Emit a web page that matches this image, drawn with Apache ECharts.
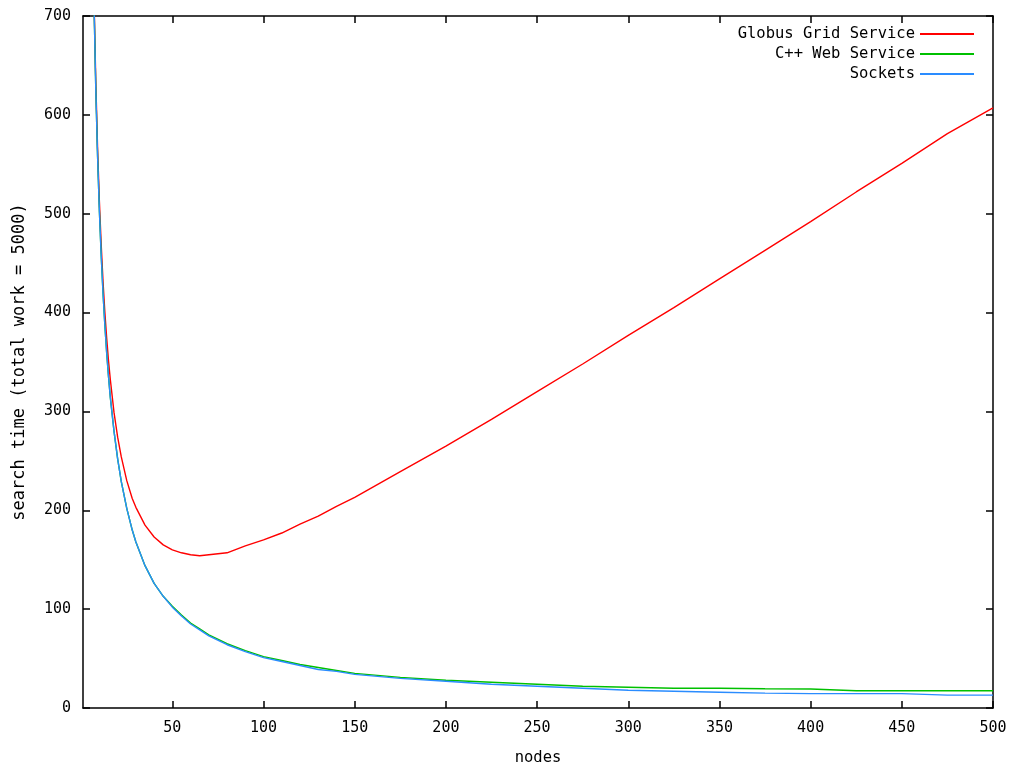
<!DOCTYPE html>
<html>
<head>
<meta charset="utf-8">
<script src="https://cdn.jsdelivr.net/npm/echarts@6/dist/echarts.min.js"></script>
<style>
html,body{margin:0;padding:0;background:#fff;}
#chart{width:1011px;height:765px;}
</style>
</head>
<body>
<div id="chart"></div>
<script>
const nodes = [7,8,9,10,11,12,13,14,15,16,18,20,22,25,28,30,35,40,45,50,55,60,65,70,80,90,100,110,120,130,140,150,175,200,225,250,275,300,325,350,375,400,425,450,475,500];
const globus = [722,635,566,512,468,431,400,374,351,332,299,274,254,230,212,203,185,173,165,160,157,155,154,155,157,164,170,177,186,194,204,213,239,265,292,320,348,377,405,434,463,492,522,551,581,607];
const webService = [716,627,558,502,457,419,387,359,335,314,280,252,229,202,180,168,144,126,113,103,94,86,80,74,65,58,52,48,44,41,38,35,31,28,26,24,22,21,20,20,19.5,19.2,17.5,17.5,17.5,17.5];
const sockets = [716,627,558,502,457,419,387,359,335,314,280,252,229,202,180,168,144,126,113,102,93,85,79,73,64,57,51,47,43,39,37,34,30,27,24,22,20,18,17,16,15,14.5,14.5,14.5,13,13];
const seriesNames = ['Globus Grid Service', 'C++ Web Service', 'Sockets'];
const xTicks = [50,100,150,200,250,300,350,400,450,500];
const xTitle = 'nodes';
const yTitle = 'search time (total work = 5000)';

const FONT = 'DejaVu Sans Mono';
const pair = (ys) => nodes.map((n, i) => [n, ys[i]]);
const colors = ['#ff0000', '#00c000', '#2a8cff'];

const chart = echarts.init(document.getElementById('chart'), null, {renderer: 'canvas'});
const axisLine = {show: true, onZero: false, lineStyle: {color: '#000', width: 1.5}};
const option = {
  animation: false,
  backgroundColor: '#fff',
  grid: {left: 83, right: 18, top: 16, bottom: 57, containLabel: false, outerBoundsMode: 'none'},
  legend: {
    orient: 'vertical',
    right: 32,
    top: 21,
    align: 'right',
    icon: 'rect',
    itemWidth: 54,
    itemHeight: 2,
    itemGap: 4,
    textStyle: {fontFamily: FONT, fontSize: 15.5, color: '#000'},
    data: seriesNames
  },
  xAxis: [{
    type: 'value', min: 1, max: 500, position: 'bottom',
    name: xTitle, nameLocation: 'middle', nameGap: 42,
    nameTextStyle: {fontFamily: FONT, fontSize: 15.5, color: '#000'},
    axisLine: axisLine,
    axisTick: {show: true, inside: true, length: 7, customValues: xTicks, lineStyle: {color: '#000', width: 1.5}},
    axisLabel: {show: true, customValues: xTicks, margin: 13, fontFamily: FONT, fontSize: 15, color: '#000'},
    splitLine: {show: false}
  }, {
    type: 'value', min: 1, max: 500, position: 'top',
    axisLine: axisLine,
    axisTick: {show: true, inside: true, length: 7, customValues: xTicks, lineStyle: {color: '#000', width: 1.5}},
    axisLabel: {show: false},
    splitLine: {show: false}
  }],
  yAxis: [{
    type: 'value', min: 0, max: 700, interval: 100, position: 'left',
    name: yTitle, nameLocation: 'middle', nameGap: 55, nameRotate: 90,
    nameTextStyle: {fontFamily: FONT, fontSize: 17, color: '#000'},
    axisLine: axisLine,
    axisTick: {show: true, inside: true, length: 7, lineStyle: {color: '#000', width: 1.5}},
    axisLabel: {margin: 12, fontFamily: FONT, fontSize: 15, color: '#000'},
    splitLine: {show: false}
  }, {
    type: 'value', min: 0, max: 700, interval: 100, position: 'right',
    axisLine: axisLine,
    axisTick: {show: true, inside: true, length: 7, lineStyle: {color: '#000', width: 1.5}},
    axisLabel: {show: false},
    splitLine: {show: false}
  }],
  series: [
    {name: seriesNames[0], type: 'line', data: pair(globus), symbol: 'none', clip: true, color: colors[0], lineStyle: {width: 1.4, color: colors[0]}},
    {name: seriesNames[1], type: 'line', data: pair(webService), symbol: 'none', clip: true, color: colors[1], lineStyle: {width: 1.4, color: colors[1]}},
    {name: seriesNames[2], type: 'line', data: pair(sockets), symbol: 'none', clip: true, color: colors[2], lineStyle: {width: 1.4, color: colors[2]}}
  ]
};
chart.setOption(option);
</script>
</body>
</html>
